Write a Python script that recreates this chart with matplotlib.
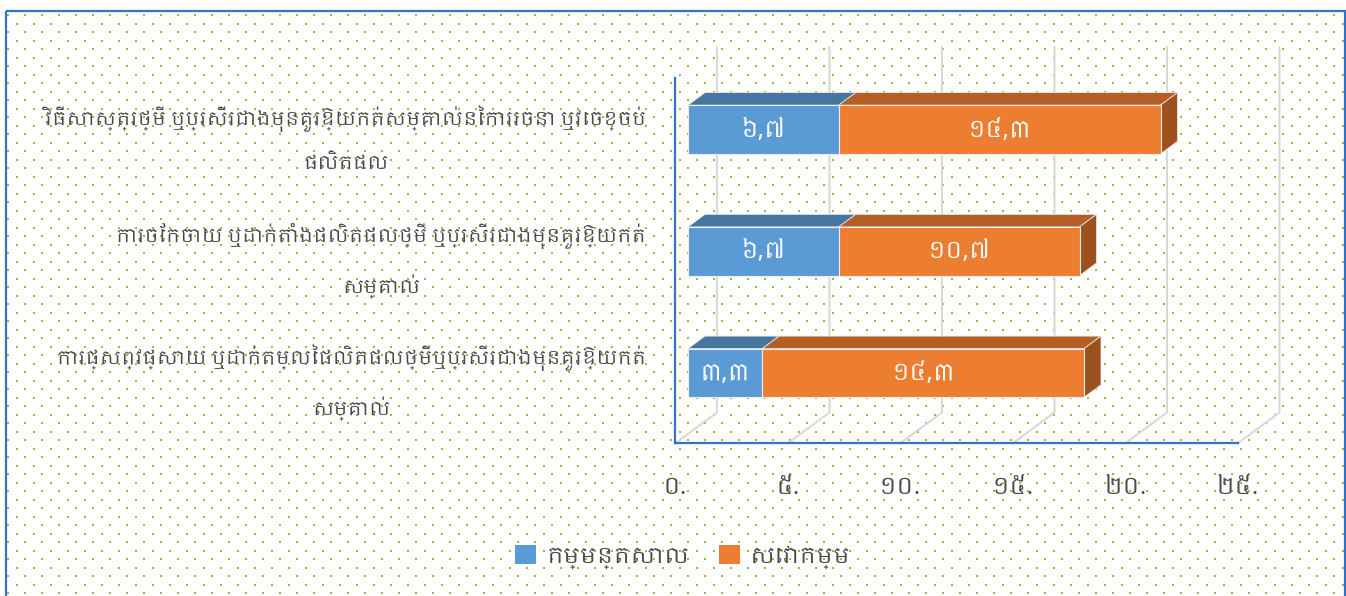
import matplotlib
matplotlib.use("Agg")
import matplotlib.pyplot as plt
from matplotlib import font_manager
from matplotlib.ft2font import FT2Font
from matplotlib.patches import Polygon, Patch, Rectangle
import numpy as np

# ---------------- data ----------------
categories = [
    "វិធីសាស្ត្រថ្មី ឬប្រសើរជាងមុនគួរឱ្យកត់សម្គាល់នៃការរចនា ឬវេចខ្ចប់\nផលិតផល",
    "ការចែកចាយ ឬដាក់តាំងផលិតផលថ្មី ឬប្រសើរជាងមុនគួរឱ្យកត់\nសម្គាល់",
    "ការផ្សព្វផ្សាយ ឬដាក់តម្លៃផលិតផលថ្មីឬប្រសើរជាងមុនគួរឱ្យកត់\nសម្គាល់",
]
series_names = ["កម្មន្តសាល", "សេវាកម្ម"]
manufacturing = [6.7, 6.7, 3.3]
services = [14.3, 10.7, 14.3]
x_ticks = [0, 5, 10, 15, 20, 25]

# ---------------- fonts ----------------
def find_khmer_font():
    entries = sorted(font_manager.fontManager.ttflist,
                     key=lambda e: 0 if "khmer" in e.name.lower() else 1)
    for fe in entries:
        try:
            if 0x1780 in FT2Font(fe.fname).get_charmap():
                return fe.name
        except Exception:
            pass
    return None

kf = find_khmer_font()
families = ([kf] if kf else []) + ["DejaVu Sans"]
plt.rcParams["font.family"] = families

KH_DIGITS = "០១២៣៤៥៦៧៨៩"
def to_khmer(s):
    return "".join(KH_DIGITS[int(ch)] if ch.isdigit() else ch for ch in s)

def fmt_val(v):
    return to_khmer(f"{v:.1f}".replace(".", ","))

def fmt_tick(v):
    return to_khmer(f"{v:d}") + "."

# ---------------- layout constants ----------------
W, H = 1346, 596
X0_PX, PXU = 688.0, 22.5      # front plane: pixel of value 0, pixels per unit
Y0_PX, PXC = 129.5, 121.75    # pixel of first category centre, pixels per category
DEPTH = (42.0, 31.0)          # full depth vector in pixels (right, up)
F_BAR_FRONT = 13.0 / 42.0
F_BAR_BACK = 30.0 / 42.0
BAR_H = 0.4

C_BLUE, C_BLUE_TOP = "#5B9BD5", "#46759F"
C_OR, C_OR_TOP, C_OR_SIDE = "#ED7D31", "#B45E24", "#9C501E"
C_GRID = "#D9D9D9"
C_AXIS = "#2E75C8"
C_TEXT = "#4A4A4A"

def depth_off(d):
    dd = d - F_BAR_FRONT
    return dd * DEPTH[0] / PXU, -dd * DEPTH[1] / PXC

fig = plt.figure(figsize=(W / 100, H / 100), dpi=100)

# background pattern + frame
bg = fig.add_axes([0, 0, 1, 1], zorder=0)
bg.set_xlim(0, W); bg.set_ylim(H, 0); bg.axis("off")
dx_list, dy_list = [], []
yy = 15.0
k = 0
while yy < H:
    x0 = 8.3 if k % 2 == 0 else 16.8
    xs = np.arange(x0, 1344, 17.0)
    dx_list.append(xs); dy_list.append(np.full_like(xs, yy))
    yy += 8.5; k += 1
bg.scatter(np.concatenate(dx_list), np.concatenate(dy_list), s=2.6, marker="s",
           color="#9BBB3F", linewidths=0)
bg.add_patch(Rectangle((6, 11), 1339, 600, fill=False, edgecolor=C_AXIS, lw=1.6))

ax = fig.add_axes([0, 0, 1, 1], zorder=1)
ax.patch.set_alpha(0)
ax.set_xlim(-X0_PX / PXU, (W - X0_PX) / PXU)
ax.set_ylim((H - Y0_PX) / PXC, -Y0_PX / PXC)
ax.axis("off")

n = len(categories)
c_top, c_bot = -0.5, n - 0.5
wdx, wdy = depth_off(1.0)
fdx, fdy = depth_off(0.0)
bdx, bdy = depth_off(F_BAR_BACK)

# back wall gridlines with floor diagonals
for v in x_ticks:
    ax.plot([v + wdx, v + wdx, v + fdx], [c_top + wdy, c_bot + wdy, c_bot + fdy],
            color=C_GRID, lw=1.5, solid_joinstyle="miter", zorder=1)

# axis lines (floor front)
ax.plot([fdx, fdx], [c_top + fdy, c_bot + fdy], color=C_AXIS, lw=1.6, zorder=2)
ax.plot([x_ticks[0] + fdx, x_ticks[-1] + fdx], [c_bot + fdy, c_bot + fdy],
        color=C_AXIS, lw=1.6, zorder=2)

# tick labels
for v in x_ticks:
    ax.text(v + fdx, c_bot + fdy + 44 / PXC, fmt_tick(v), ha="center", va="center",
            fontsize=17, color=C_TEXT)

# category labels
for i, lab in enumerate(categories):
    ax.text(fdx - 29 / PXU, i + fdy, lab, ha="right", va="center",
            multialignment="center", fontsize=13.6, color=C_TEXT, linespacing=2.4)

# bars
def draw_segment(i, s, e, cf, ct, cs=None):
    top, bot = i - BAR_H / 2, i + BAR_H / 2
    ax.add_patch(Polygon([(s, top), (e, top), (e + bdx, top + bdy), (s + bdx, top + bdy)],
                         closed=True, facecolor=ct, edgecolor="#E6E6E6", lw=0.6, zorder=3))
    ax.add_patch(Polygon([(s, top), (e, top), (e, bot), (s, bot)], closed=True,
                         facecolor=cf, edgecolor="#EDEDED", lw=0.8, zorder=4))
    if cs is not None:
        ax.add_patch(Polygon([(e, top), (e + bdx, top + bdy), (e + bdx, bot + bdy), (e, bot)],
                             closed=True, facecolor=cs, edgecolor="#E6E6E6", lw=0.6, zorder=3))

for i in range(n):
    m, s = manufacturing[i], services[i]
    draw_segment(i, 0, m, C_BLUE, C_BLUE_TOP)
    draw_segment(i, m, m + s, C_OR, C_OR_TOP, C_OR_SIDE)
    ax.text(m / 2, i, fmt_val(m), ha="center", va="center", color="white",
            fontsize=17, fontweight="bold", zorder=5)
    ax.text(m + s / 2, i, fmt_val(s), ha="center", va="center", color="white",
            fontsize=17, fontweight="bold", zorder=5)

# legend
handles = [Patch(facecolor=C_BLUE, edgecolor="none", label=series_names[0]),
           Patch(facecolor=C_OR, edgecolor="none", label=series_names[1])]
leg = fig.legend(handles=handles, loc="center", bbox_to_anchor=(683 / W, 1 - 557 / H),
                 ncol=2, frameon=False, fontsize=16, handlelength=0.95, handleheight=0.95,
                 handletextpad=0.45, columnspacing=1.3)
for t in leg.get_texts():
    t.set_color(C_TEXT)

fig.savefig("out.png", dpi=100)
